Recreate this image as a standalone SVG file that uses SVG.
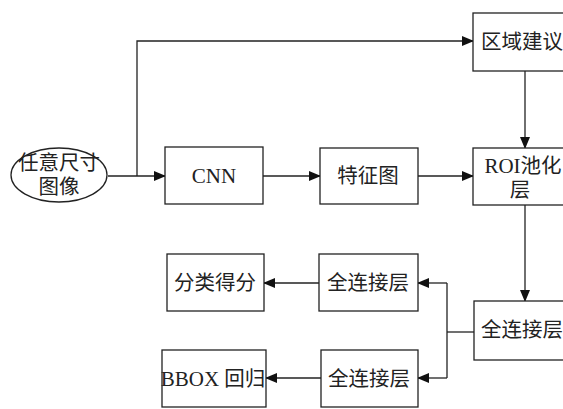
<svg xmlns="http://www.w3.org/2000/svg" width="563" height="409" viewBox="0 0 563 409">
<defs>
<marker id="ah" markerWidth="12" markerHeight="10" refX="11" refY="5" orient="auto" markerUnits="userSpaceOnUse">
<path d="M0,0 L12,5 L0,10 Z" fill="#111"/>
</marker>
<style>
.box{fill:#fff;stroke:#222;stroke-width:1.3}
.t{font-family:"Liberation Serif","Noto Sans CJK SC",serif;font-size:20.5px;fill:#222;text-anchor:middle;dominant-baseline:central}
.l{font-size:21px}
.c{fill:none;stroke:#222;stroke-width:1.3}
</style>
</defs>
<rect width="563" height="409" fill="#fff"/>
<g id="connectors">
<path class="c" d="M108,176 H165" marker-end="url(#ah)"/>
<path class="c" d="M137,176 V41 H473" marker-end="url(#ah)"/>
<path class="c" d="M263,176 H320" marker-end="url(#ah)"/>
<path class="c" d="M418,176 H473" marker-end="url(#ah)"/>
<path class="c" d="M525,71 V148" marker-end="url(#ah)"/>
<path class="c" d="M525,205 V301" marker-end="url(#ah)"/>
<path class="c" d="M474,332 H447"/>
<path class="c" d="M447,283 H418" marker-end="url(#ah)"/>
<path class="c" d="M447,283 V378"/>
<path class="c" d="M447,378 H418" marker-end="url(#ah)"/>
<path class="c" d="M319,283 H264" marker-end="url(#ah)"/>
<path class="c" d="M321,378 H266" marker-end="url(#ah)"/>
</g>
<g id="input">
<ellipse class="box" cx="59" cy="175" rx="48" ry="27"/>
<text class="t" x="59" y="163">任意尺寸</text>
<text class="t" x="59" y="187">图像</text>
</g>
<g id="cnn">
<rect class="box" x="165" y="147" width="98" height="57"/>
<text class="t l" x="214" y="176">CNN</text>
</g>
<g id="feature">
<rect class="box" x="320" y="148" width="98" height="56"/>
<text class="t" x="368" y="176">特征图</text>
</g>
<g id="proposal">
<rect class="box" x="473" y="13" width="95" height="58"/>
<text class="t" x="522" y="42">区域建议</text>
</g>
<g id="roi">
<rect class="box" x="473" y="148" width="95" height="57"/>
<text class="t" x="523" y="166"><tspan class="l">ROI</tspan>池化</text>
<text class="t" x="520" y="190">层</text>
</g>
<g id="fc-main">
<rect class="box" x="474" y="301" width="95" height="59"/>
<text class="t" x="522" y="330">全连接层</text>
</g>
<g id="fc-cls">
<rect class="box" x="319" y="254" width="99" height="57"/>
<text class="t" x="368" y="283">全连接层</text>
</g>
<g id="fc-bbox">
<rect class="box" x="321" y="350" width="97" height="57"/>
<text class="t" x="369" y="379">全连接层</text>
</g>
<g id="cls">
<rect class="box" x="167" y="254" width="97" height="57"/>
<text class="t" x="215" y="283">分类得分</text>
</g>
<g id="bbox">
<rect class="box" x="162" y="350" width="104" height="57"/>
<text class="t" x="213" y="379"><tspan class="l">BBOX</tspan> 回归</text>
</g>
</svg>
